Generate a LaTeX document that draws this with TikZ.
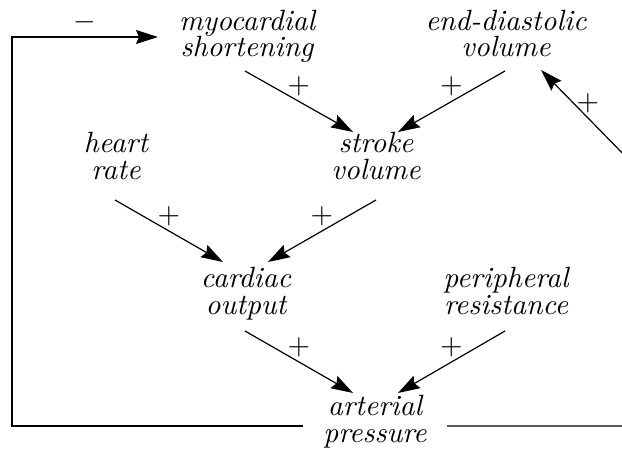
\documentclass[tikz,border=0pt]{standalone}
\usetikzlibrary{arrows.meta}
\begin{document}
\begin{tikzpicture}[x=1pt,y=-1pt,
  qty/.style={anchor=base, align=center, inner sep=0pt,
    font=\fontsize{10}{9.2}\selectfont\itshape, scale=2.93, transform shape},
  link/.style={line width=1.2pt, -{Stealth[length=22pt,width=14pt,inset=3pt]}},
  sign/.style={midway, yshift=15pt, inner sep=0pt, font=\fontsize{10}{12}\selectfont,
    scale=2.9, transform shape}]
\useasboundingbox (0,0) rectangle (622,452);
\clip (0,0) rectangle (622,452);

% quantities (the base anchor sits on the baseline of the last line)
\node[qty] (myo)    at (247,57)  {myocardial\\shortening};
\node[qty] (edv)    at (506,57)  {end-diastolic\\volume};
\node[qty] (heart)  at (116,179) {heart\\rate};
\node[qty] (stroke) at (376,179) {stroke\\volume};
\node[qty] (co)     at (246,314) {cardiac\\output};
\node[qty] (periph) at (506,314) {peripheral\\resistance};
\node[qty] (art)    at (375,442) {arterial\\pressure};

% corners of the loops
\coordinate (loopL)  at (12,37);
\coordinate (loopRB) at (635,426);
\coordinate (loopRT) at (635,166);

% positive influences
\draw[link] ([shift={(-2pt,-14pt)}]myo.base) -- ([shift={(-23pt,47pt)}]stroke.base) node[sign] {$+$};
\draw[link] ([shift={(-1pt,-14pt)}]edv.base) -- ([shift={(22pt,47pt)}]stroke.base) node[sign] {$+$};
\draw[link] ([shift={(-1pt,-21pt)}]heart.base) -- ([shift={(-23pt,52pt)}]co.base) node[sign] {$+$};
\draw[link] ([shift={(0pt,-21pt)}]stroke.base) -- ([shift={(22pt,52pt)}]co.base) node[sign] {$+$};
\draw[link] ([shift={(-1pt,-17pt)}]co.base) -- ([shift={(-22pt,49pt)}]art.base) node[sign] {$+$};
\draw[link] ([shift={(-1pt,-17pt)}]periph.base) -- ([shift={(23pt,49pt)}]art.base) node[sign] {$+$};

% feedback loops from arterial pressure
\draw[link] ([shift={(-72pt,16pt)}]art.base) -| (loopL)
  -- ([shift={(-89pt,20pt)}]myo.base) node[sign] {$-$};
\draw[link] ([shift={(72pt,16pt)}]art.base) -- (loopRB) -- (loopRT)
  -- ([shift={(35pt,-13pt)}]edv.base) node[sign] {$+$};
\end{tikzpicture}
\end{document}
